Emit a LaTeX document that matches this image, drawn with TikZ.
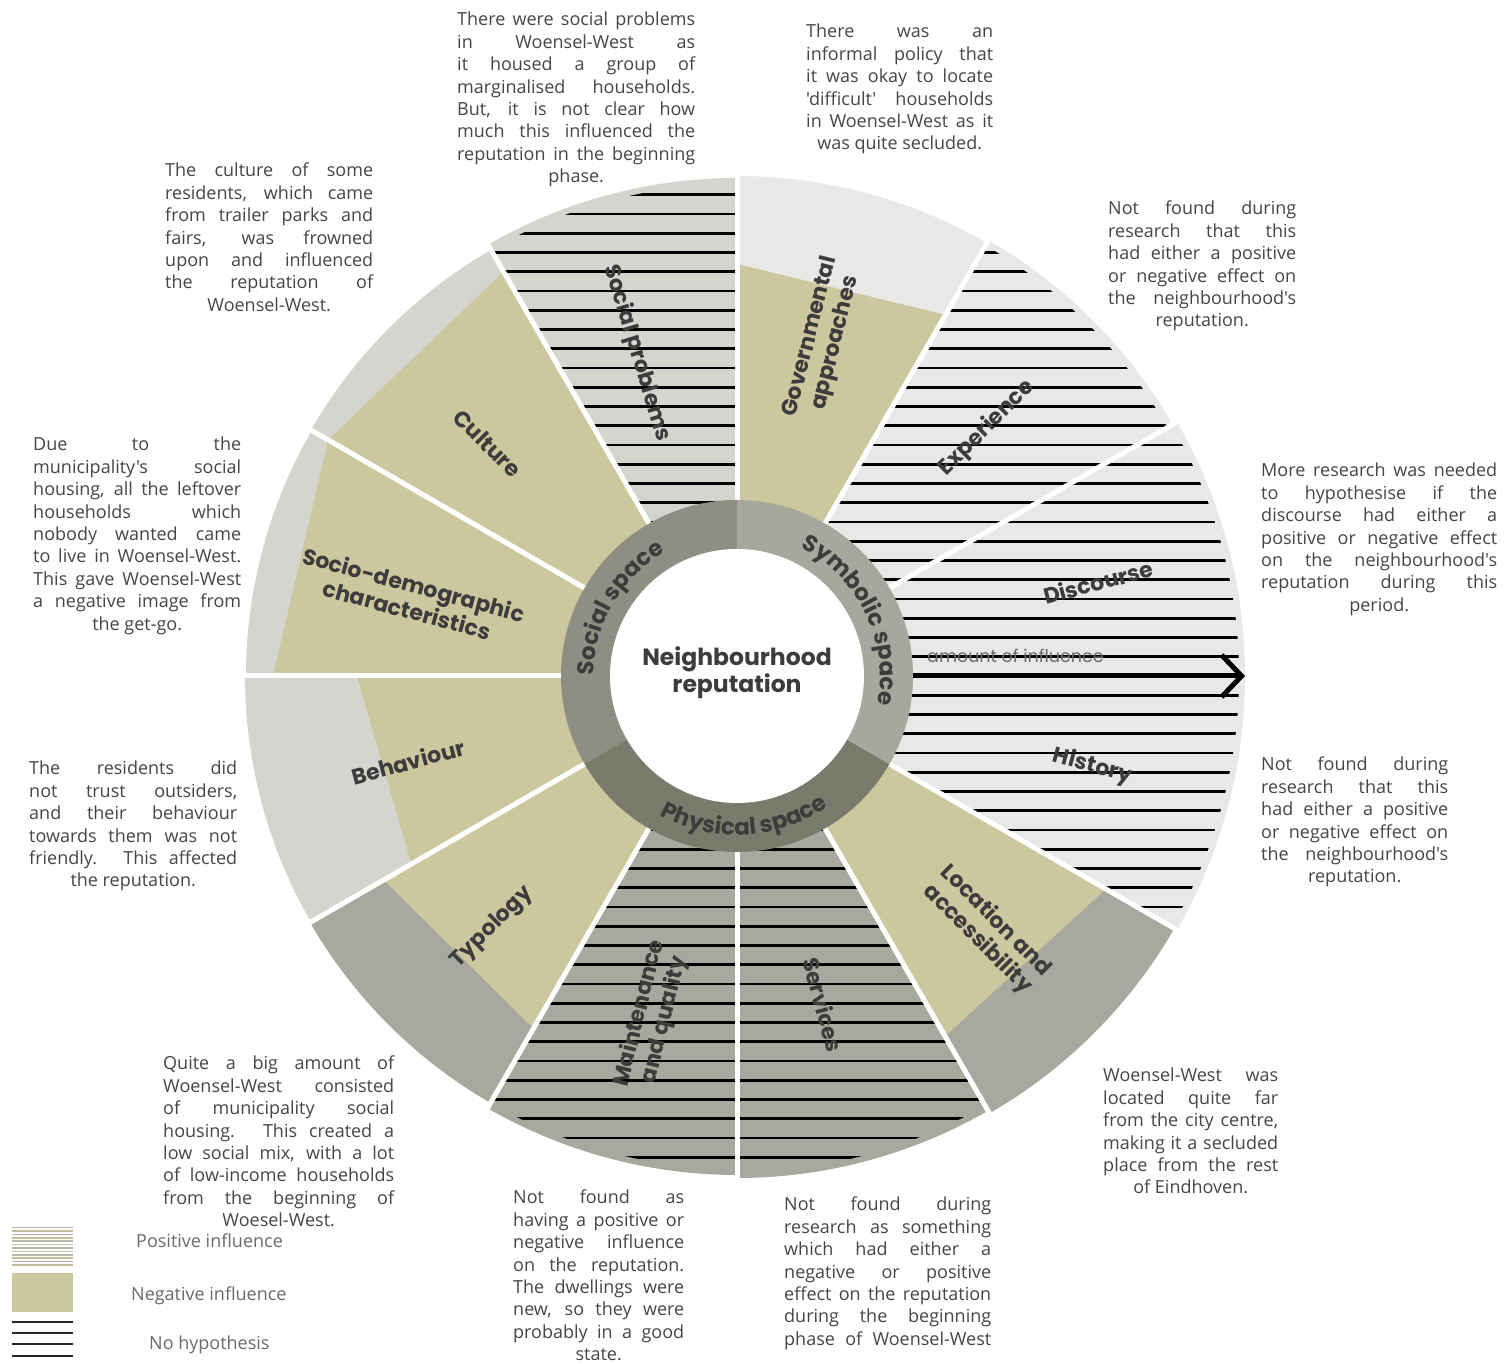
\documentclass[tikz,border=0pt]{standalone}
\usepackage{fontspec}
\usepackage{xcolor}
\newfontfamily\bodyfont{Open Sans}
\newfontfamily\headfont{Poppins}
\usetikzlibrary{arrows.meta,decorations.text}

\definecolor{khaki}{HTML}{CDC79F}
\definecolor{socialbg}{HTML}{D4D5CF}
\definecolor{symbolbg}{HTML}{E8E8E6}
\definecolor{physicalbg}{HTML}{A8A89E}
\definecolor{socialring}{HTML}{8E8F82}
\definecolor{symbolring}{HTML}{A7A89D}
\definecolor{physicalring}{HTML}{7A7B6C}
\definecolor{labeltext}{HTML}{3C3C3C}
\definecolor{desctext}{HTML}{454545}
\definecolor{legendtext}{HTML}{6A6A6A}
\definecolor{posline}{HTML}{C4BE96}
\definecolor{posgray}{HTML}{B9B9B2}

% one justified line, and a centred last line
\newcommand{\jl}[1]{\hbox to \hsize{#1}}
\newcommand{\cl}[1]{\hbox to \hsize{\hfil#1\hfil}}
\newcommand{\para}[2]{\vtop{\hsize=#1\relax#2}}
\newcommand{\ringfont}{\color{labeltext}\headfont\bfseries\fontsize{23}{23}\selectfont}

% wedge of the wheel: colour, start angle, end angle, radius
\newcommand{\sectorfill}[4]{%
  \fill[#1] (0,0) -- (#2:#4) arc[start angle=#2, end angle=#3, radius=#4] -- cycle;}
% amount of influence: start angle, end angle, radius at start, radius at end
\newcommand{\influence}[4]{%
  \fill[khaki] (0,0) -- (#1:#3) -- (#2:#4) -- cycle;}
% horizontal hatching inside a wedge
\newcommand{\hatching}[3]{%
  \begin{scope}
    \clip (0,0) -- (#1:#3) arc[start angle=#1, end angle=#2, radius=#3] -- cycle;
    \foreach \k in {-27,...,27}
      \draw[stripe] (-520,\k*19.25) -- (520,\k*19.25);
  \end{scope}}

\begin{document}
\begin{tikzpicture}[
    x=1pt, y=1pt,
    stripe/.style={line width=2.6pt, black},
    separator/.style={line width=5pt, white},
    sectorlabel/.style={font=\headfont\bfseries\fontsize{22}{26}\selectfont, text=labeltext, align=center, inner sep=0pt},
    hub/.style={font=\headfont\bfseries\fontsize{23.5}{27}\selectfont, text=labeltext, align=center, inner sep=0pt},
    desc/.style={font=\bodyfont\fontsize{18}{22.4}\selectfont, text=desctext, inner sep=0pt, anchor=base west},
    legendlabel/.style={font=\bodyfont\fontsize{18}{22}\selectfont, text=legendtext, inner sep=0pt, anchor=base west},
    influencearrow/.style={line width=5pt, -{Straight Barb[length=20pt, width=42pt]}},
    axislabel/.style={font=\headfont\fontsize{17.5}{17.5}\selectfont, text=legendtext, inner sep=0pt, anchor=base west}
]
\useasboundingbox (0,0) rectangle (1506,1364);

% Wheel
\begin{scope}[shift={(737,688)}]
% Social space
\sectorfill{socialbg}{90}{120}{498}
\hatching{90}{120}{492}
\sectorfill{socialbg}{120}{150}{492}
\influence{120}{150}{467}{472}
\sectorfill{socialbg}{150}{180}{491}
\influence{150}{180}{472}{464}
\sectorfill{socialbg}{180}{210}{492}
\influence{180}{210}{380}{376}
% Physical space
\sectorfill{physicalbg}{210}{240}{493}
\influence{210}{240}{408}{407}
\sectorfill{physicalbg}{240}{270}{499}
\hatching{240}{270}{493}
\sectorfill{physicalbg}{270}{300}{502}
\hatching{270}{300}{496}
\sectorfill{physicalbg}{300}{330}{505}
\influence{300}{330}{416}{426}
% Symbolic space
\sectorfill{symbolbg}{330}{360}{508}
\hatching{330}{360}{502}
\sectorfill{symbolbg}{0}{30}{508}
\hatching{0}{30}{502}
\sectorfill{symbolbg}{30}{60}{503}
\hatching{30}{60}{497}
\sectorfill{symbolbg}{60}{90}{500}
\influence{60}{90}{417}{412}

% Separators
\foreach \a in {30,60,...,330}
  \draw[separator] (\a:170) -- (\a:515);

% Ring
\fill[socialring] (0,0) -- (90:176) arc[start angle=90, end angle=210, radius=176] -- cycle;
\fill[physicalring] (0,0) -- (210:176) arc[start angle=210, end angle=330, radius=176] -- cycle;
\fill[symbolring] (0,0) -- (330:176) arc[start angle=330, end angle=450, radius=176] -- cycle;
\fill[white] (0,0) circle[radius=127];

\path[decorate, decoration={text along path, text align=center,
  text={|\ringfont|Social space}}] (192:143) arc[start angle=192, end angle=108, radius=143];
\path[decorate, decoration={text along path, text align=center,
  text={|\ringfont|Symbolic space}}] (68:143) arc[start angle=68, end angle=-16, radius=143];
\path[decorate, decoration={text along path, text align=center,
  text={|\ringfont|Physical space}}] (231:159) arc[start angle=231, end angle=315, radius=159];

% Amount of influence
\coordinate (axisfrom) at (0:176);
\coordinate (axisto) at (0:508);
\draw[influencearrow] (axisfrom) -- (axisto);
\node[axislabel] (axislbl) at (190,13) {amount of influence};

% Centre and sector labels
\node[hub] (hub) at (0,3) {Neighbourhood\\reputation};
\node[sectorlabel, rotate=-73] (socialproblems) at (107.2:338) {Social problems};
\node[sectorlabel, rotate=-45] (culture) at (137:341) {Culture};
\node[sectorlabel, rotate=-15] (sociodemo) at (166.4:336) {Socio-demographic\\characteristics};
\node[sectorlabel, rotate=15] (behaviour) at (194.6:340) {Behaviour};
\node[sectorlabel, rotate=45] (typology) at (225.8:351) {Typology};
\node[sectorlabel, rotate=76] (maintenance) at (256:351) {Maintenance\\and quality};
\node[sectorlabel, rotate=-75] (services) at (-75.3:340) {Services};
\node[sectorlabel, rotate=-45] (location) at (-45.5:356) {Location and\\accessibility};
\node[sectorlabel, rotate=-15] (history) at (-14.3:367) {History};
\node[sectorlabel, rotate=15] (discourse) at (14.6:373) {Discourse};
\node[sectorlabel, rotate=45] (experience) at (44.8:352) {Experience};
\node[sectorlabel, rotate=76] (governmental) at (75.6:347) {Governmental\\approaches};
\end{scope}

% Descriptions
\node[desc] (socialproblemstxt) at (457,1338) {\para{238pt}{%
  \jl{There were social problems}
  \jl{in Woensel-West as}
  \jl{it housed a group of}
  \jl{marginalised households.}
  \jl{But, it is not clear how}
  \jl{much this influenced the}
  \jl{reputation in the beginning}
  \cl{phase.}}};
\node[desc] (governmentaltxt) at (806,1326) {\para{187pt}{%
  \jl{There was an}
  \jl{informal policy that}
  \jl{it was okay to locate}
  \jl{'difficult' households}
  \jl{in Woensel-West as it}
  \cl{was quite secluded.}}};
\node[desc] (culturetxt) at (165,1187) {\para{208pt}{%
  \jl{The culture of some}
  \jl{residents, which came}
  \jl{from trailer parks and}
  \jl{fairs, was frowned}
  \jl{upon and influenced}
  \jl{the reputation of}
  \cl{Woensel-West.}}};
\node[desc] (experiencetxt) at (1108,1149) {\para{188pt}{%
  \jl{Not found during}
  \jl{research that this}
  \jl{had either a positive}
  \jl{or negative effect on}
  \jl{the neighbourhood's}
  \cl{reputation.}}};
\node[desc] (sociodemotxt) at (33,913) {\para{208pt}{%
  \jl{Due to the}
  \jl{municipality's social}
  \jl{housing, all the leftover}
  \jl{households which}
  \jl{nobody wanted came}
  \jl{to live in Woensel-West.}
  \jl{This gave Woensel-West}
  \jl{a negative image from}
  \cl{the get-go.}}};
\node[desc] (discoursetxt) at (1261,887) {\para{236pt}{%
  \jl{More research was needed}
  \jl{to hypothesise if the}
  \jl{discourse had either a}
  \jl{positive or negative effect}
  \jl{on the neighbourhood's}
  \jl{reputation during this}
  \cl{period.}}};
\node[desc] (behaviourtxt) at (29,589) {\para{208pt}{%
  \jl{The residents did}
  \jl{not trust outsiders,}
  \jl{and their behaviour}
  \jl{towards them was not}
  \jl{friendly. This affected}
  \cl{the reputation.}}};
\node[desc] (historytxt) at (1261,593) {\para{187pt}{%
  \jl{Not found during}
  \jl{research that this}
  \jl{had either a positive}
  \jl{or negative effect on}
  \jl{the neighbourhood's}
  \cl{reputation.}}};
\node[desc] (typologytxt) at (163,294) {\para{231pt}{%
  \jl{Quite a big amount of}
  \jl{Woensel-West consisted}
  \jl{of municipality social}
  \jl{housing. This created a}
  \jl{low social mix, with a lot}
  \jl{of low-income households}
  \jl{from the beginning of}
  \cl{Woesel-West.}}};
\node[desc] (locationtxt) at (1103,282) {\para{175pt}{%
  \jl{Woensel-West was}
  \jl{located quite far}
  \jl{from the city centre,}
  \jl{making it a secluded}
  \jl{place from the rest}
  \cl{of Eindhoven.}}};
\node[desc] (maintenancetxt) at (513,160) {\para{171pt}{%
  \jl{Not found as}
  \jl{having a positive or}
  \jl{negative influence}
  \jl{on the reputation.}
  \jl{The dwellings were}
  \jl{new, so they were}
  \jl{probably in a good}
  \cl{state.}}};
\node[desc] (servicestxt) at (784,153) {\para{207pt}{%
  \jl{Not found during}
  \jl{research as something}
  \jl{which had either a}
  \jl{negative or positive}
  \jl{effect on the reputation}
  \jl{during the beginning}
  \jl{phase of Woensel-West}}};

% Legend
\foreach \i in {0,2,...,10}
  \draw[line width=1.6pt, posline] (12,99+\i*3.4) -- (73,99+\i*3.4);
\foreach \i in {1,3,...,11}
  \draw[line width=1.6pt, posgray] (12,99+\i*3.4) -- (73,99+\i*3.4);
\node[fill=khaki, minimum width=61pt, minimum height=39pt, inner sep=0pt, anchor=south west] (negkey) at (12,52) {};
\foreach \y in {42,31,20,8}
  \draw[line width=1.6pt, black!85] (12,\y) -- (73,\y);
\node[legendlabel] (poslabel) at (136,116) {Positive influence};
\node[legendlabel] (neglabel) at (131,63) {Negative influence};
\node[legendlabel] (nonelabel) at (149,14) {No hypothesis};

\end{tikzpicture}
\end{document}
